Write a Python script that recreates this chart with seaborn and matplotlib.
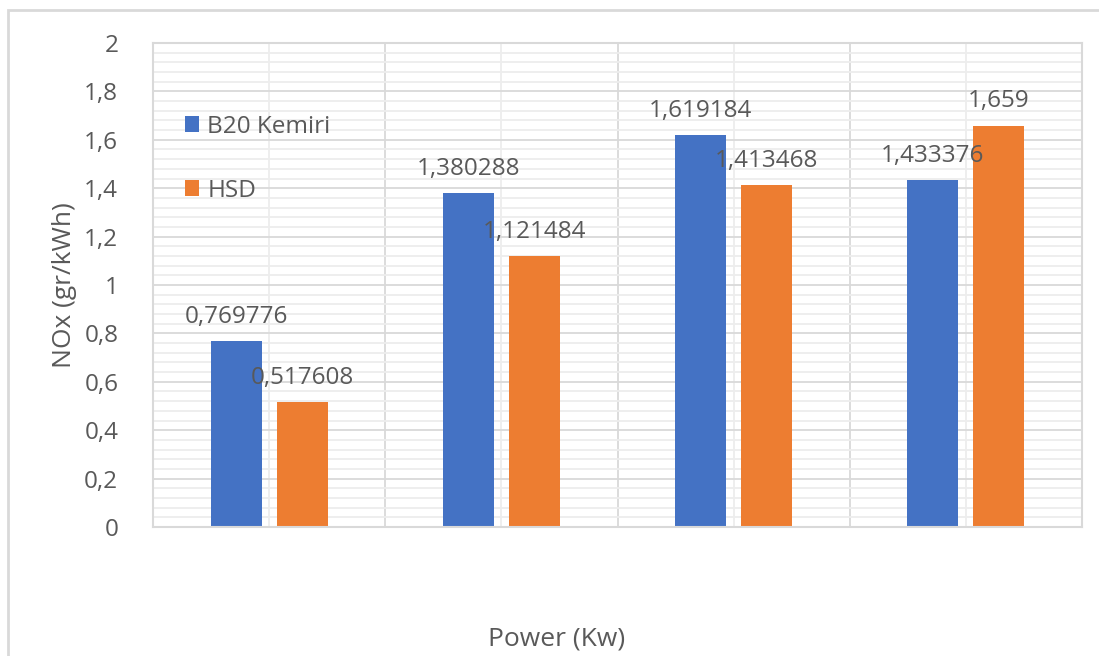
import matplotlib
matplotlib.use("Agg")
import matplotlib.pyplot as plt
import matplotlib.ticker as mticker
from matplotlib.patches import Rectangle
import seaborn as sns
import pandas as pd

categories = ["P1", "P2", "P3", "P4"]
series_names = ["B20 Kemiri", "HSD"]
b20_values = [0.769776, 1.380288, 1.619184, 1.433376]
hsd_values = [0.517608, 1.121484, 1.413468, 1.659]
b20_labels = ["0,769776", "1,380288", "1,619184", "1,433376"]
hsd_labels = ["0,517608", "1,121484", "1,413468", "1,659"]
colors = ["#4472C4", "#ED7D31"]

df = pd.DataFrame({
    "cat": categories * 2,
    "series": [series_names[0]] * 4 + [series_names[1]] * 4,
    "val": b20_values + hsd_values,
})

sns.set_style("white")
plt.rcParams["font.family"] = ["Open Sans", "DejaVu Sans"]
text_color = "#595959"
fs = 17.5
fs_title = 19

fig = plt.figure(figsize=(10.99, 6.56), dpi=100)
ax = fig.add_axes([153/1099, 1 - 527/656, (1082-153)/1099, (527-43)/656])

sns.barplot(data=df, x="cat", y="val", hue="series", order=categories,
            hue_order=series_names, palette=colors, width=0.568, gap=0.225,
            ax=ax, legend=True, saturation=1, linewidth=0)

ax.set_ylim(0, 2)
ax.set_xlim(-0.5, 3.5)
ax.yaxis.set_major_locator(mticker.MultipleLocator(0.2))
ax.yaxis.set_minor_locator(mticker.MultipleLocator(0.04))
ax.yaxis.set_major_formatter(mticker.FuncFormatter(
    lambda v, p: ("%g" % round(v, 2)).replace(".", ",")))
ax.xaxis.set_major_locator(mticker.FixedLocator([0.5, 1.5, 2.5]))
ax.xaxis.set_minor_locator(mticker.FixedLocator([0, 1, 2, 3]))
ax.set_xticklabels([])
ax.grid(True, which="major", axis="both", color="#d9d9d9", linewidth=1.3)
ax.grid(True, which="minor", axis="both", color="#ededed", linewidth=1.3)
ax.set_axisbelow(True)
ax.tick_params(axis="both", which="both", length=0)
ax.tick_params(axis="y", labelsize=fs, labelcolor=text_color, pad=25)
for s in ax.spines.values():
    s.set_color("#d9d9d9")
    s.set_linewidth(1.5)

# data labels
for cont, labs in zip(ax.containers, [b20_labels, hsd_labels]):
    for bar, lab in zip(cont, labs):
        ax.annotate(lab, (bar.get_x() + bar.get_width()/2, bar.get_height()),
                    xytext=(0, 13), textcoords="offset points",
                    ha="center", va="baseline", fontsize=fs, color=text_color)

ax.set_ylabel("NOx (gr/kWh)", fontsize=fs_title, color=text_color, labelpad=5)
ax.set_xlabel("")
fig.text(557/1099, 1 - 639/656, "Power (Kw)", ha="center", va="center",
         fontsize=fs_title, color=text_color)

leg = ax.legend(loc="upper left", bbox_to_anchor=(0.034, 0.852), frameon=False,
                fontsize=fs, labelspacing=1.65, handlelength=0.6,
                handleheight=0.6, handletextpad=0.33, borderpad=0,
                borderaxespad=0)
for t in leg.get_texts():
    t.set_color(text_color)

fig.patches.append(Rectangle((8/1099, -0.05), 1.2, 1 - 10/656 + 0.05,
                             transform=fig.transFigure, fill=False,
                             edgecolor="#d9d9d9", linewidth=2))

fig.savefig("out.png", dpi=100, facecolor="white")
